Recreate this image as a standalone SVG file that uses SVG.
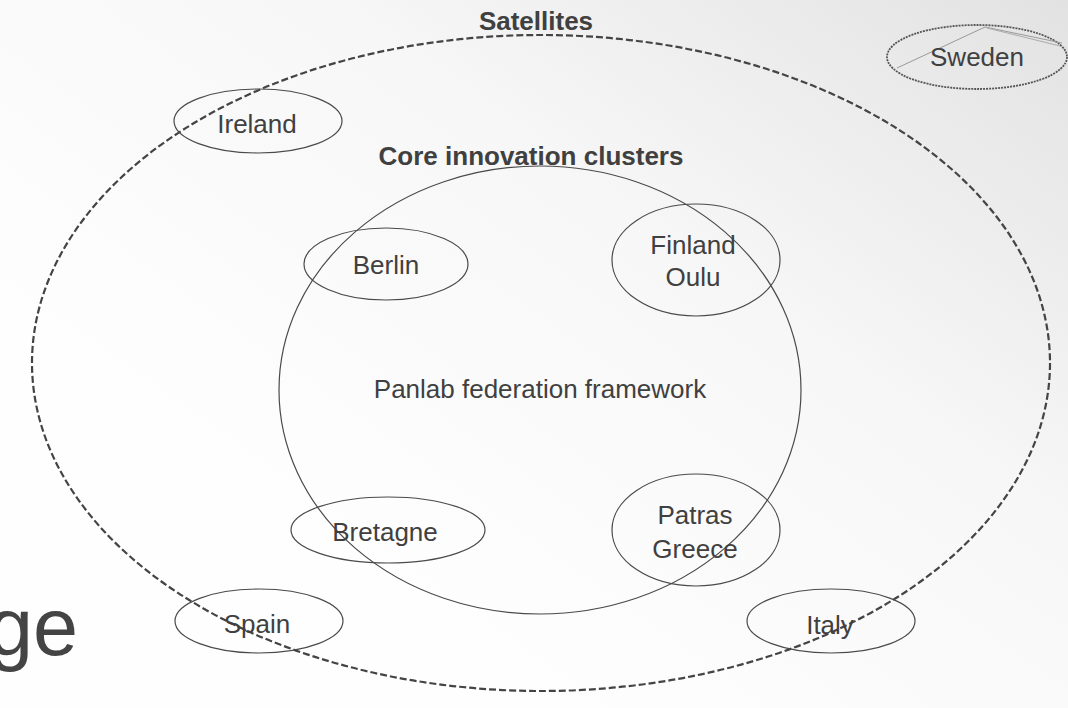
<svg xmlns="http://www.w3.org/2000/svg" width="1068" height="708" viewBox="0 0 1068 708">
  <defs>
    <linearGradient id="bg" x1="0.25" y1="0.7" x2="1" y2="0">
      <stop offset="0" stop-color="#fefefe"/>
      <stop offset="0.5" stop-color="#f7f7f7"/>
      <stop offset="1" stop-color="#e2e2e2"/>
    </linearGradient>
    <style>
      .node { fill: none; stroke: #4a4a4a; stroke-width: 1.2; }
      .lbl { font-family: "Liberation Sans", Arial, sans-serif; font-size: 26px; fill: #404040; text-anchor: middle; }
      .bold { font-weight: bold; }
    </style>
  </defs>
  <rect x="0" y="0" width="1068" height="708" fill="url(#bg)"/>

  <text x="-12" y="655" font-family="Liberation Sans, Arial, sans-serif" font-size="81" fill="#444444">ge</text>

  <g id="satellites">
    <ellipse cx="541" cy="363" rx="509" ry="328" fill="none" stroke="#444444" stroke-width="2.2" stroke-dasharray="7 3"/>
    <text class="lbl bold" x="536" y="30">Satellites</text>
  </g>

  <g id="core">
    <ellipse class="node" cx="540" cy="390" rx="261" ry="224"/>
    <text class="lbl bold" x="531" y="165">Core innovation clusters</text>
    <text class="lbl" x="540" y="398">Panlab federation framework</text>
  </g>

  <g id="sweden">
    <ellipse cx="977" cy="57" rx="90" ry="32" fill="none" stroke="#555555" stroke-width="1.8" stroke-dasharray="2 1"/>
    <polyline points="897,68 985,27 1062,43" fill="none" stroke="#999999" stroke-width="1"/>
    <polyline points="987,28 1060,46" fill="none" stroke="#aaaaaa" stroke-width="1"/>
    <text class="lbl" x="977" y="66">Sweden</text>
  </g>

  <g id="ireland">
    <ellipse class="node" cx="258" cy="121" rx="84" ry="32"/>
    <text class="lbl" x="257" y="133">Ireland</text>
  </g>

  <g id="berlin">
    <ellipse class="node" cx="386" cy="264" rx="82" ry="36"/>
    <text class="lbl" x="386" y="274">Berlin</text>
  </g>

  <g id="finland">
    <ellipse class="node" cx="696" cy="260" rx="84" ry="56"/>
    <text class="lbl" x="693" y="254">Finland</text>
    <text class="lbl" x="693" y="286">Oulu</text>
  </g>

  <g id="bretagne">
    <ellipse class="node" cx="388" cy="530" rx="97" ry="33"/>
    <text class="lbl" x="385" y="541">Bretagne</text>
  </g>

  <g id="patras">
    <ellipse class="node" cx="696" cy="530" rx="84" ry="56"/>
    <text class="lbl" x="695" y="524">Patras</text>
    <text class="lbl" x="695" y="558">Greece</text>
  </g>

  <g id="spain">
    <ellipse class="node" cx="259" cy="621" rx="84" ry="32"/>
    <text class="lbl" x="257" y="633">Spain</text>
  </g>

  <g id="italy">
    <ellipse class="node" cx="831" cy="621" rx="84" ry="32"/>
    <text class="lbl" x="830" y="634">Italy</text>
  </g>

  <g id="connectors"></g>
</svg>
